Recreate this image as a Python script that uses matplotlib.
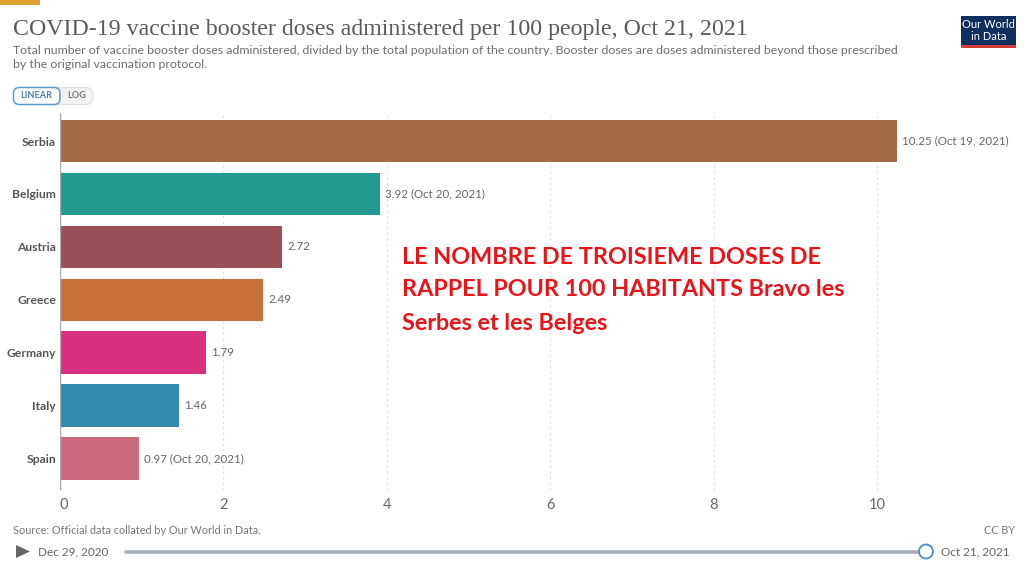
import matplotlib
matplotlib.use("Agg")
import matplotlib.pyplot as plt
from matplotlib.patches import Rectangle, FancyBboxPatch, Circle, Polygon

countries = ["Serbia", "Belgium", "Austria", "Greece", "Germany", "Italy", "Spain"]
doses = [10.25, 3.92, 2.72, 2.49, 1.79, 1.46, 0.97]
labels = ["10.25 (Oct 19, 2021)", "3.92 (Oct 20, 2021)", "2.72", "2.49", "1.79", "1.46", "0.97 (Oct 20, 2021)"]
colors = ["#A66C49", "#239A8F", "#9A5058", "#C8703A", "#D8307F", "#3489AE", "#CB6A7E"]
xticks = [0, 2, 4, 6, 8, 10]

W, H = 1024, 566
plt.rcParams["font.family"] = ["Lato", "DejaVu Sans"]
fig = plt.figure(figsize=(W / 100, H / 100), dpi=100, facecolor="white")

# page overlay in pixel coordinates
bg = fig.add_axes([0, 0, 1, 1])
bg.set_xlim(0, W)
bg.set_ylim(H, 0)
bg.axis("off")

# chart axes: x=0 at 60px, x=10 at 877px; first bar centred at 141px, 52.9px spacing
L, R, T, B = 60, 1012, 113, 490
ax = fig.add_axes([L / W, 1 - B / H, (R - L) / W, (B - T) / H])
ax.patch.set_alpha(0)
ax.set_xlim(0, (R - L) / 81.7)
ax.set_ylim((B - 141) / 52.9, (T - 141) / 52.9)
ax.barh(range(len(countries)), doses, height=0.8, color=colors, zorder=3)
for s in ax.spines.values():
    s.set_visible(False)
ax.set_yticks(range(len(countries)))
ax.set_yticklabels(countries, fontsize=8.7, fontweight="bold", color="#555555")
ax.tick_params(axis="y", length=0, pad=2.8)
ax.set_xticks(xticks)
ax.set_xticklabels([str(t) for t in xticks], fontsize=10.5, color="#666666")
ax.get_xticklabels()[0].set_ha("left")
ax.tick_params(axis="x", length=0, pad=6)
ax.grid(axis="x", color="#dddddd", linestyle=(0, (2, 3)), linewidth=0.8, zorder=0)
ax.axvline(0, color="#aaaaaa", linewidth=1, zorder=4)
for i, (d, t) in enumerate(zip(doses, labels)):
    ax.text(d + 0.06, i, t, va="center", ha="left", fontsize=8.3, color="#666666", zorder=5)

# top accent
bg.add_patch(Rectangle((0, 0), 40, 5, color="#E0A030", lw=0))

# titles
bg.text(13, 30, "COVID-19 vaccine booster doses administered per 100 people, Oct 21, 2021",
        family="Liberation Serif", fontsize=17.2, color="#5b5b5b", va="center", ha="left")
bg.text(13, 51, "Total number of vaccine booster doses administered, divided by the total population of the country. Booster doses are doses administered beyond those prescribed",
        fontsize=8.9, color="#6e6e6e", va="center", ha="left")
bg.text(13, 65, "by the original vaccination protocol.",
        fontsize=8.9, color="#6e6e6e", va="center", ha="left")

# logo
bg.add_patch(Rectangle((961, 16), 55, 32, color="#0F2F5C", lw=0))
bg.add_patch(Rectangle((961, 44.5), 55, 3.5, color="#D73C37", lw=0))
bg.text(988.5, 24.5, "Our World", color="white", fontsize=8, ha="center", va="center")
bg.text(988.5, 36.5, "in Data", color="white", fontsize=8, ha="center", va="center")

# linear/log toggle
bg.add_patch(FancyBboxPatch((50, 87.5), 43, 17, boxstyle="round,pad=0,rounding_size=7",
                            fc="#f2f2f2", ec="#dddddd", lw=0.8))
bg.add_patch(FancyBboxPatch((13.5, 87.5), 46.5, 17, boxstyle="round,pad=0,rounding_size=6",
                            fc="white", ec="#5A9BC9", lw=1.1, zorder=3))
bg.text(36.5, 96, "LINEAR", fontsize=6.6, fontweight="bold", color="#4A7FA8", ha="center", va="center", zorder=4)
bg.text(77, 96, "LOG", fontsize=6.6, fontweight="bold", color="#777777", ha="center", va="center")

# annotation
for y, line in zip((257, 290, 323),
                   ("LE NOMBRE DE TROISIEME DOSES DE",
                    "RAPPEL POUR 100 HABITANTS Bravo les",
                    "Serbes et les Belges")):
    fig.text(402 / W, 1 - y / H, line, family="Lato", fontsize=16.8, fontweight="bold",
             color="#E8141C", va="center", ha="left", zorder=10)

# footer
bg.text(13, 530, "Source: Official data collated by Our World in Data.", fontsize=7.8, color="#777777", va="center")
bg.text(1015, 530, "CC BY", fontsize=7.85, color="#777777", va="center", ha="right")
bg.add_patch(Polygon([(16, 545), (16, 558), (30, 551.5)], color="#666666", lw=0))
bg.text(38, 551.5, "Dec 29, 2020", fontsize=8.5, color="#666666", va="center")
bg.plot([126, 926], [551.5, 551.5], color="#A8AEB8", lw=2.6, solid_capstyle="round")
bg.add_patch(Circle((926, 551.5), 7, fc="white", ec="#4A8FC4", lw=1.3, zorder=5))
bg.text(941, 551.5, "Oct 21, 2021", fontsize=8.5, color="#666666", va="center")

fig.savefig("out.png", dpi=100)
